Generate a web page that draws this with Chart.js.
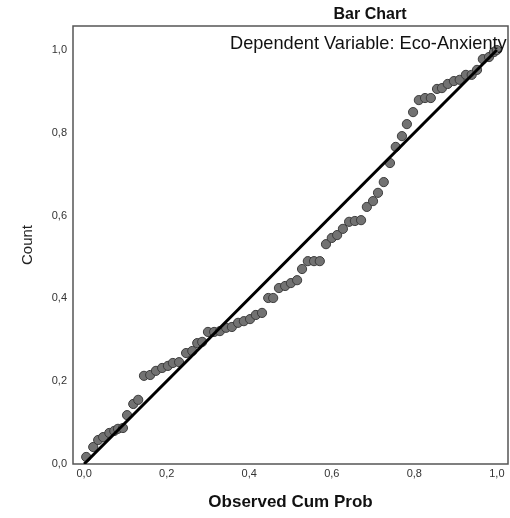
<!DOCTYPE html>
<html>
<head>
<meta charset="utf-8">
<script src="https://cdn.jsdelivr.net/npm/chart.js@4"></script>
<style>
    html, body { margin: 0; padding: 0; background: #fff; }
    #wrap { width: 510px; height: 518px; }
</style>
</head>
<body>
<div id="wrap"><canvas id="ppChart"></canvas></div>
<script>
// Values
const observedCumProb = [
    0.005, 0.022, 0.034, 0.046, 0.061, 0.073, 0.082, 0.094, 0.104, 0.119,
    0.131, 0.145, 0.160, 0.174, 0.189, 0.203, 0.215, 0.230, 0.247, 0.262,
    0.274, 0.286, 0.300, 0.315, 0.329, 0.344, 0.358, 0.373, 0.387, 0.402,
    0.416, 0.431, 0.446, 0.458, 0.472, 0.487, 0.501, 0.516, 0.528, 0.542,
    0.557, 0.571, 0.586, 0.600, 0.613, 0.627, 0.642, 0.656, 0.671, 0.685,
    0.700, 0.712, 0.726, 0.741, 0.755, 0.770, 0.782, 0.797, 0.811, 0.826,
    0.840, 0.855, 0.867, 0.881, 0.896, 0.910, 0.925, 0.939, 0.952, 0.966,
    0.981, 0.993, 1.000
];
const expectedCumProb = [
    0.017, 0.041, 0.058, 0.065, 0.075, 0.080, 0.085, 0.087, 0.118, 0.145,
    0.155, 0.213, 0.215, 0.225, 0.232, 0.237, 0.244, 0.246, 0.268, 0.273,
    0.292, 0.295, 0.319, 0.319, 0.321, 0.329, 0.331, 0.341, 0.345, 0.350,
    0.360, 0.365, 0.401, 0.401, 0.425, 0.430, 0.437, 0.444, 0.471, 0.490,
    0.490, 0.490, 0.531, 0.546, 0.553, 0.568, 0.585, 0.587, 0.589, 0.621,
    0.635, 0.655, 0.681, 0.727, 0.766, 0.792, 0.821, 0.850, 0.879, 0.884,
    0.884, 0.906, 0.908, 0.918, 0.925, 0.928, 0.940, 0.940, 0.952, 0.978,
    0.983, 0.995, 1.000
];
// Diagonal reference line
const refLineX = [0, 1];
const refLineY = [0, 1];
// Tick labels
const xTickValues = [0, 0.2, 0.4, 0.6, 0.8, 1.0];
const yTickValues = [0, 0.2, 0.4, 0.6, 0.8, 1.0];

const chartTitle = 'Bar Chart';
const subTitle = 'Dependent Variable: Eco-Anxienty';

const FONT = "'Liberation Sans', Arial, sans-serif";
Chart.defaults.font.family = FONT;

const commaFmt = (v) => v.toFixed(1).replace('.', ',');

// Box round the plot area plus the two titles
const frameAndTitles = {
    id: 'frameAndTitles',
    beforeDatasetsDraw(chart) {
        const { ctx, chartArea: a } = chart;
        ctx.save();
        ctx.strokeStyle = '#555';
        ctx.lineWidth = 1.5;
        ctx.strokeRect(a.left, a.top, a.right - a.left, a.bottom - a.top);
        ctx.restore();
    },
    afterDraw(chart) {
        const { ctx } = chart;
        ctx.save();
        ctx.fillStyle = '#111';
        ctx.textBaseline = 'middle';
        ctx.textAlign = 'center';
        ctx.font = `bold 16px ${FONT}`;
        ctx.fillText(chartTitle, 370, 15);
        ctx.textAlign = 'left';
        ctx.font = `18.2px ${FONT}`;
        ctx.fillText(subTitle, 230, 44);
        ctx.restore();
    }
};

const ctx = document.getElementById('ppChart').getContext('2d');
new Chart(ctx, {
    type: 'scatter',
    data: {
        datasets: [
            {
                label: 'Reference',
                data: refLineX.map((x, i) => ({ x, y: refLineY[i] })),
                showLine: true,
                borderColor: '#000',
                borderWidth: 3,
                pointRadius: 0,
                fill: false
            },
            {
                label: 'Observed',
                data: observedCumProb.map((x, i) => ({ x, y: expectedCumProb[i] })),
                backgroundColor: '#727272',
                borderColor: '#3c3c3c',
                borderWidth: 1,
                pointRadius: 4.6,
                pointHoverRadius: 4.6
            }
        ]
    },
    plugins: [frameAndTitles],
    options: {
        responsive: true,
        maintainAspectRatio: false,
        animation: false,
        layout: { autoPadding: false, padding: { top: 26, right: 2, left: 0, bottom: 0 } },
        plugins: {
            legend: { display: false },
            tooltip: { enabled: false }
        },
        scales: {
            x: {
                type: 'linear',
                min: -0.027,
                max: 1.027,
                grid: { display: false, drawTicks: false },
                border: { display: false },
                afterBuildTicks: (scale) => { scale.ticks = xTickValues.map(v => ({ value: v })); },
                ticks: {
                    padding: 3,
                    color: '#333',
                    font: { size: 11 },
                    maxRotation: 0,
                    callback: (v) => commaFmt(v)
                },
                title: {
                    display: true,
                    text: 'Observed Cum Prob',
                    color: '#111',
                    font: { size: 17, weight: 'bold' },
                    padding: { top: 0, bottom: 5 }
                },
                afterFit: (scale) => {
                    scale.height = 54;
                    scale.paddingLeft = 0;
                    scale.paddingRight = 0;
                }
            },
            y: {
                type: 'linear',
                min: 0,
                max: 1.058,
                grid: { display: false, drawTicks: false },
                border: { display: false },
                afterBuildTicks: (scale) => { scale.ticks = yTickValues.map(v => ({ value: v })); },
                ticks: {
                    padding: 6,
                    color: '#333',
                    font: { size: 11 },
                    callback: (v) => commaFmt(v)
                },
                title: {
                    display: true,
                    text: 'Count',
                    color: '#222',
                    font: { size: 15 },
                    padding: { top: 19, bottom: 0 }
                },
                afterFit: (scale) => {
                    scale.width = 73;
                    scale.paddingTop = 0;
                    scale.paddingBottom = 0;
                }
            }
        }
    }
});
</script>
</body>
</html>
